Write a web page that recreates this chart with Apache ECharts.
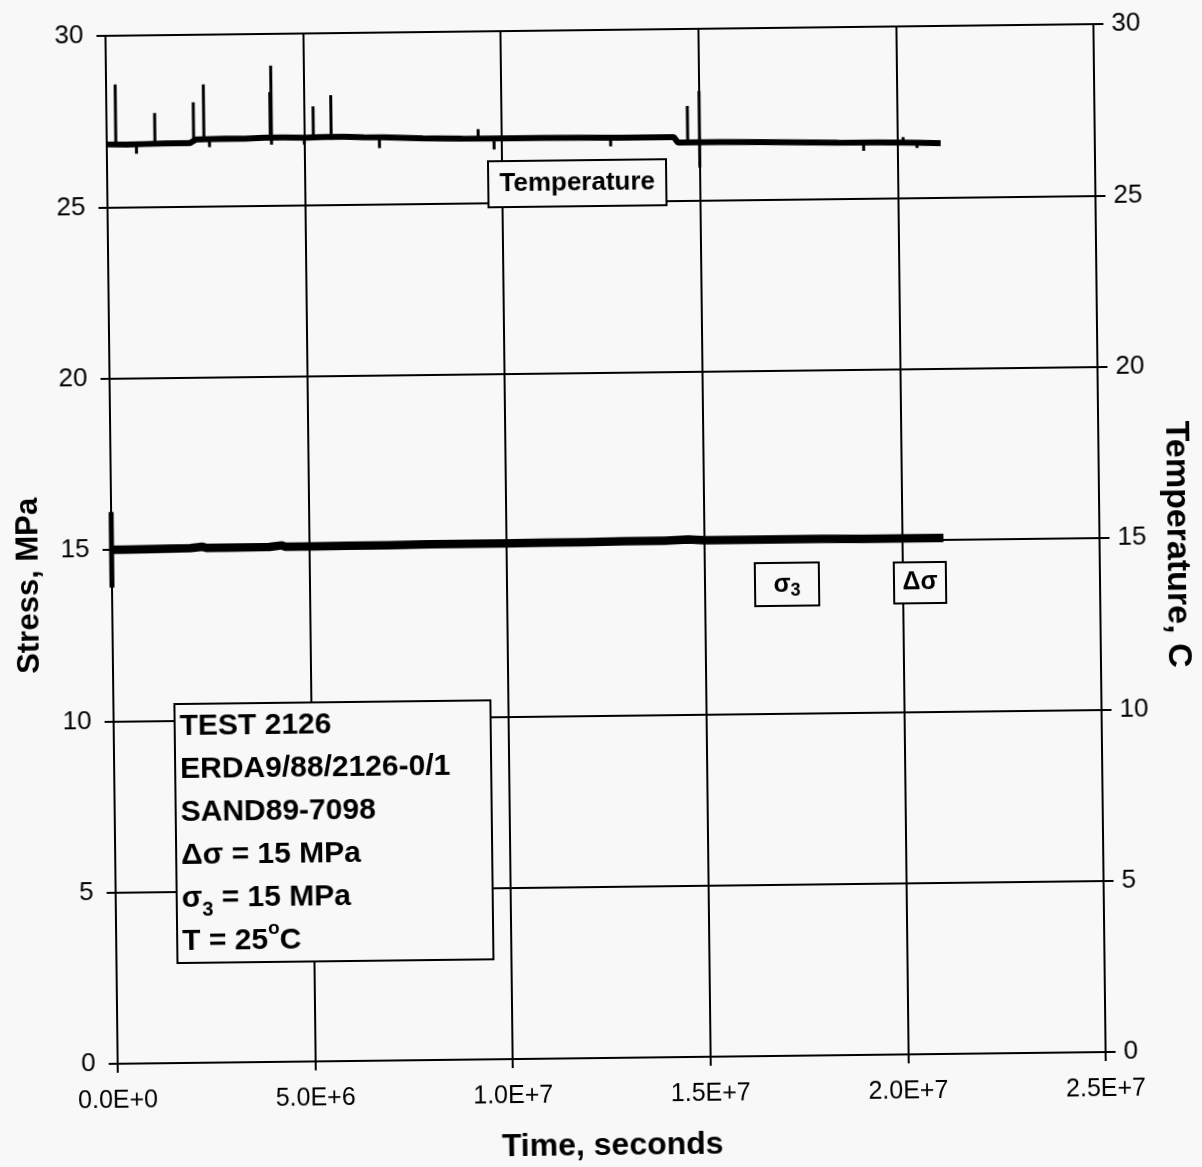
<!DOCTYPE html>
<html>
<head>
<meta charset="utf-8">
<script src="https://cdn.jsdelivr.net/npm/echarts@6/dist/echarts.min.js"></script>
<style>
  html, body { margin: 0; padding: 0; background: #f8f8f8; }
  #chart { width: 1202px; height: 1167px; transform: rotate(-0.68deg); transform-origin: 50% 50%; }
</style>
</head>
<body>
<div id="chart"></div>
<script>
// ---- Time axis tick labels (seconds, scientific notation) ----
const xTickLabels = ['0.0E+0', '5.0E+6', '1.0E+7', '1.5E+7', '2.0E+7', '2.5E+7'];

// ---- Stress history (MPa): sigma3 confining pressure ----
const sigma3Time  = [0, 3.0e5, 1.0e6, 2.0e6, 2.3e6, 2.4e6, 3.0e6, 4.0e6, 4.3e6, 4.4e6, 5.0e6, 6.0e6, 7.0e6, 8.0e6, 9.0e6,
                     1.0e7, 1.1e7, 1.2e7, 1.3e7, 1.4e7, 1.46e7, 1.5e7, 1.6e7, 1.7e7, 1.8e7, 1.9e7, 2.0e7, 2.105e7];
const sigma3Value = [15.00, 15.00, 15.01, 15.02, 15.06, 15.02, 15.02, 15.03, 15.07, 15.03, 15.03, 15.04, 15.04, 15.05, 15.05,
                     15.05, 15.06, 15.06, 15.07, 15.07, 15.10, 15.07, 15.07, 15.07, 15.07, 15.06, 15.06, 15.06];

// ---- Stress difference (MPa), including the initial loading step ----
const deltaTime  = [0, 0, 0, 0, 1.0e6, 3.0e6, 5.0e6, 8.0e6, 1.0e7, 1.2e7, 1.4e7, 1.6e7, 1.8e7, 2.0e7, 2.105e7];
const deltaValue = [15.00, 13.90, 16.10, 15.00, 15.01, 15.02, 15.03, 15.05, 15.05, 15.06, 15.07, 15.07, 15.07, 15.06, 15.06];

// ---- Temperature record (C): baseline trace ----
const tempTime  = [0, 5.0e5, 1.0e6, 1.5e6, 2.1e6, 2.25e6, 3.0e6, 3.5e6, 4.0e6, 4.5e6, 5.0e6, 5.5e6, 6.0e6, 6.5e6, 7.0e6,
                   7.5e6, 8.0e6, 9.0e6, 1.0e7, 1.1e7, 1.2e7, 1.3e7, 1.4e7, 1.435e7, 1.445e7, 1.55e7, 1.65e7, 1.75e7,
                   1.85e7, 1.95e7, 2.05e7, 2.11e7];
const tempValue = [26.83, 26.82, 26.83, 26.84, 26.84, 26.94, 26.96, 26.95, 26.97, 26.97, 26.96, 26.97, 26.97, 26.95, 26.94,
                   26.92, 26.90, 26.88, 26.87, 26.87, 26.86, 26.85, 26.85, 26.85, 26.69, 26.69, 26.67, 26.65,
                   26.63, 26.62, 26.60, 26.58];

// ---- Temperature excursions (C): short spikes and dips ----
const spikeTime = [2.3e5, 7.5e5, 1.22e6, 2.2e6, 2.46e6, 2.6e6, 4.14e6, 4.17e6, 5.0e6, 5.23e6, 5.68e6, 6.9e6,
                   9.4e6, 9.8e6, 1.275e7, 1.47e7, 1.5e7, 1.915e7, 2.015e7, 2.05e7];
const spikeLow  = [26.83, 26.55, 26.84, 26.84, 26.95, 26.72, 26.90, 26.77, 26.75, 26.90, 26.90, 26.63,
                   26.87, 26.55, 26.60, 26.70, 25.95, 26.38, 26.60, 26.45];
const spikeHigh = [28.58, 26.83, 27.73, 28.03, 28.55, 26.95, 28.30, 29.07, 26.96, 27.87, 28.19, 26.94,
                   27.15, 26.87, 26.86, 27.75, 28.18, 26.63, 26.77, 26.60];

const zip = (xs, ys) => xs.map((x, i) => [x, ys[i]]);
const spikeData = [];
spikeTime.forEach((t, i) => {
  spikeData.push([t, spikeLow[i]], [t, spikeHigh[i]], [t, null]);
});

const FONT = '"Liberation Sans", Arial, Helvetica, sans-serif';
const INK = '#000';
const BG = '#f8f8f8';

const tickLabel = v => xTickLabels[Math.round(v / 5e6)] || '';

const chart = echarts.init(document.getElementById('chart'), null, { renderer: 'canvas' });

chart.setOption({
  animation: false,
  backgroundColor: 'transparent',
  textStyle: { fontFamily: FONT, color: INK },
  grid: { left: 112, top: 30, width: 991, height: 1036, containLabel: false },
  xAxis: {
    type: 'value', min: 0, max: 2.5e7, interval: 5e6,
    axisLine: { show: true, onZero: false, lineStyle: { color: INK, width: 2 } },
    axisTick: { show: true, inside: false, length: 9, lineStyle: { color: INK, width: 2 } },
    splitLine: { show: true, lineStyle: { color: INK, width: 2 } },
    axisLabel: { formatter: tickLabel, fontSize: 25, color: INK, fontFamily: FONT, margin: 25 },
    name: 'Time, seconds', nameLocation: 'middle', nameGap: 72,
    nameTextStyle: { fontSize: 32, fontWeight: 'bold', color: INK, fontFamily: FONT }
  },
  yAxis: [
    {
      type: 'value', min: 0, max: 30, interval: 5, position: 'left',
      axisLine: { show: true, onZero: false, lineStyle: { color: INK, width: 2 } },
      axisTick: { show: true, inside: false, length: 9, lineStyle: { color: INK, width: 2 } },
      splitLine: { show: true, lineStyle: { color: INK, width: 2 } },
      axisLabel: { fontSize: 26, color: INK, fontFamily: FONT, margin: 22 },
      name: 'Stress, MPa', nameLocation: 'middle', nameRotate: 90, nameGap: 67,
      nameTextStyle: { fontSize: 31, fontWeight: 'bold', color: INK, fontFamily: FONT, padding: [0, 70, 0, 0] }
    },
    {
      type: 'value', min: 0, max: 30, interval: 5, position: 'right',
      axisLine: { show: true, onZero: false, lineStyle: { color: INK, width: 2 } },
      axisTick: { show: true, inside: false, length: 10, lineStyle: { color: INK, width: 2 } },
      splitLine: { show: false },
      axisLabel: { fontSize: 26, color: INK, fontFamily: FONT, margin: 18 },
      name: 'Temperature, C', nameLocation: 'middle', nameRotate: -90, nameGap: 60,
      nameTextStyle: { fontSize: 34, fontWeight: 'bold', color: INK, fontFamily: FONT, padding: [0, 0, 0, 14] }
    }
  ],
  series: [
    {
      name: 'σ3', type: 'line', yAxisIndex: 0, data: zip(sigma3Time, sigma3Value),
      showSymbol: false, symbol: 'none', lineStyle: { color: INK, width: 8.5 }, z: 3
    },
    {
      name: 'Δσ', type: 'line', yAxisIndex: 0, data: zip(deltaTime, deltaValue),
      showSymbol: false, symbol: 'none', lineStyle: { color: INK, width: 5 }, z: 4
    },
    {
      name: 'Temperature', type: 'line', yAxisIndex: 1, data: zip(tempTime, tempValue),
      showSymbol: false, symbol: 'none', lineStyle: { color: INK, width: 6 }, z: 3
    },
    {
      name: 'Temperature excursions', type: 'line', yAxisIndex: 1, data: spikeData, connectNulls: false,
      showSymbol: false, symbol: 'none', lineStyle: { color: INK, width: 3 }, z: 4
    }
  ],
  graphic: [
    // Temperature trace label
    {
      type: 'group', left: 492, top: 159, z: 100,
      children: [
        { type: 'rect', z: 100, shape: { x: 0, y: 0, width: 178, height: 46 },
          style: { fill: BG, stroke: INK, lineWidth: 2 } },
        { type: 'text', z: 101, x: 89, y: 23,
          style: { text: 'Temperature', font: 'bold 26px ' + FONT, fill: INK, align: 'center', verticalAlign: 'middle' } }
      ]
    },
    // sigma3 trace label
    {
      type: 'group', left: 754, top: 564, z: 100,
      children: [
        { type: 'rect', z: 100, shape: { x: 0, y: 0, width: 64, height: 43 },
          style: { fill: BG, stroke: INK, lineWidth: 2 } },
        { type: 'text', z: 101, x: 32, y: 22,
          style: {
            text: '{a|σ}{s|3}', align: 'center', verticalAlign: 'middle', fill: INK,
            rich: {
              a: { fontFamily: FONT, fontSize: 25, fontWeight: 'bold', lineHeight: 30, verticalAlign: 'middle' },
              s: { fontFamily: FONT, fontSize: 18, fontWeight: 'bold', lineHeight: 22, verticalAlign: 'bottom' }
            }
          } }
      ]
    },
    // delta-sigma trace label
    {
      type: 'group', left: 893, top: 565, z: 100,
      children: [
        { type: 'rect', z: 100, shape: { x: 0, y: 0, width: 52, height: 41 },
          style: { fill: BG, stroke: INK, lineWidth: 2 } },
        { type: 'text', z: 101, x: 26, y: 20,
          style: { text: 'Δσ', font: 'bold 25px ' + FONT, fill: INK, align: 'center', verticalAlign: 'middle' } }
      ]
    },
    // Test description
    {
      type: 'group', left: 172, top: 698, z: 100,
      children: [
        { type: 'rect', z: 100, shape: { x: 0, y: 0, width: 316, height: 259 },
          style: { fill: BG, stroke: INK, lineWidth: 2 } },
        { type: 'text', z: 101, x: 5, y: 1,
          style: {
            text: [
              '{b|TEST 2126}',
              '{b|ERDA9/88/2126-0/1}',
              '{b|SAND89-7098}',
              '{b|Δσ = 15 MPa}',
              '{b|σ}{s|3}{b| = 15 MPa}',
              '{b|T = 25}{u|o}{b|C}'
            ].join('\n'),
            fill: INK, align: 'left', verticalAlign: 'top',
            rich: {
              b: { fontFamily: FONT, fontSize: 30, fontWeight: 'bold', lineHeight: 43, verticalAlign: 'middle' },
              s: { fontFamily: FONT, fontSize: 20, fontWeight: 'bold', lineHeight: 30, verticalAlign: 'bottom' },
              u: { fontFamily: FONT, fontSize: 19, fontWeight: 'bold', lineHeight: 22, verticalAlign: 'top' }
            }
          } }
      ]
    }
  ]
});
</script>
</body>
</html>
